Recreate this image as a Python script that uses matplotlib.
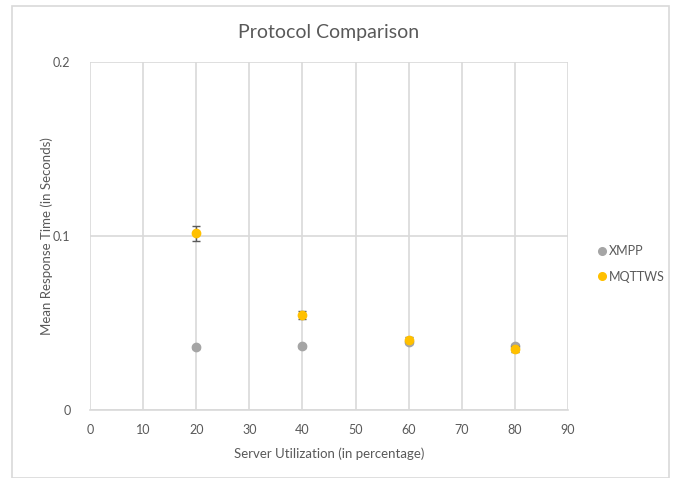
import matplotlib
matplotlib.use("Agg")
import matplotlib.pyplot as plt
from matplotlib.lines import Line2D
from matplotlib.patches import Rectangle

utilization = [20, 40, 60, 80]
xmpp_mean = [0.036, 0.0365, 0.039, 0.037]
xmpp_err = [0.001, 0.001, 0.001, 0.001]
mqttws_mean = [0.1015, 0.0545, 0.0405, 0.035]
mqttws_err = [0.0045, 0.0022, 0.0015, 0.0015]

x_ticks = list(range(0, 100, 10))
y_ticks = [0, 0.1, 0.2]
y_tick_labels = ["0", "0.1", "0.2"]

plt.rcParams["font.family"] = ["Lato", "DejaVu Sans"]
text_color = "#595959"
grid_color = "#D9D9D9"
xmpp_color = "#A5A5A5"
mqttws_color = "#FFC000"

fig = plt.figure(figsize=(6.85, 4.78), dpi=100)
fig.patches.append(Rectangle((12 / 685, 0), 657 / 685, 472 / 478, transform=fig.transFigure,
                             fill=False, edgecolor="#D9D9D9", linewidth=1.2))
ax = fig.add_axes([90 / 685, 68 / 478, 478 / 685, 348 / 478])

ax.errorbar(utilization, xmpp_mean, yerr=xmpp_err, fmt="o", color=xmpp_color, ecolor="#7F7F7F",
            elinewidth=1, capsize=3, markersize=6, zorder=3)
ax.errorbar(utilization, mqttws_mean, yerr=mqttws_err, fmt="o", color=mqttws_color, ecolor="#595959",
            elinewidth=1, capsize=3, markersize=6, zorder=4)

ax.set_xlim(0, 90)
ax.set_ylim(0, 0.2)
ax.set_xticks(x_ticks)
ax.set_yticks(y_ticks, y_tick_labels)
ax.grid(True, color=grid_color, linewidth=1.2)
ax.set_axisbelow(True)
for side in ["top", "right", "left"]:
    ax.spines[side].set_visible(False)
ax.spines["bottom"].set_color(grid_color)
ax.spines["bottom"].set_linewidth(1.2)
ax.tick_params(length=0, labelsize=9, colors=text_color, pad=10)
ax.tick_params(axis="y", pad=14)

ax.set_title("Protocol Comparison", fontsize=14, color=text_color, pad=17)
ax.set_xlabel("Server Utilization (in percentage)", fontsize=9.5, color=text_color, labelpad=8)
ax.set_ylabel("Mean Response Time (in Seconds)", fontsize=9.5, color=text_color, labelpad=0)

handles = [
    Line2D([], [], marker="o", linestyle="none", color=xmpp_color, markersize=5.5, label="XMPP"),
    Line2D([], [], marker="o", linestyle="none", color=mqttws_color, markersize=5.5, label="MQTTWS"),
]
leg = ax.legend(handles=handles, loc="center left", bbox_to_anchor=(1.035, 0.42), frameon=False,
                fontsize=9, handletextpad=0.0, handlelength=1.0, labelspacing=1.1)
for t in leg.get_texts():
    t.set_color(text_color)

fig.savefig("out.png", dpi=100)
